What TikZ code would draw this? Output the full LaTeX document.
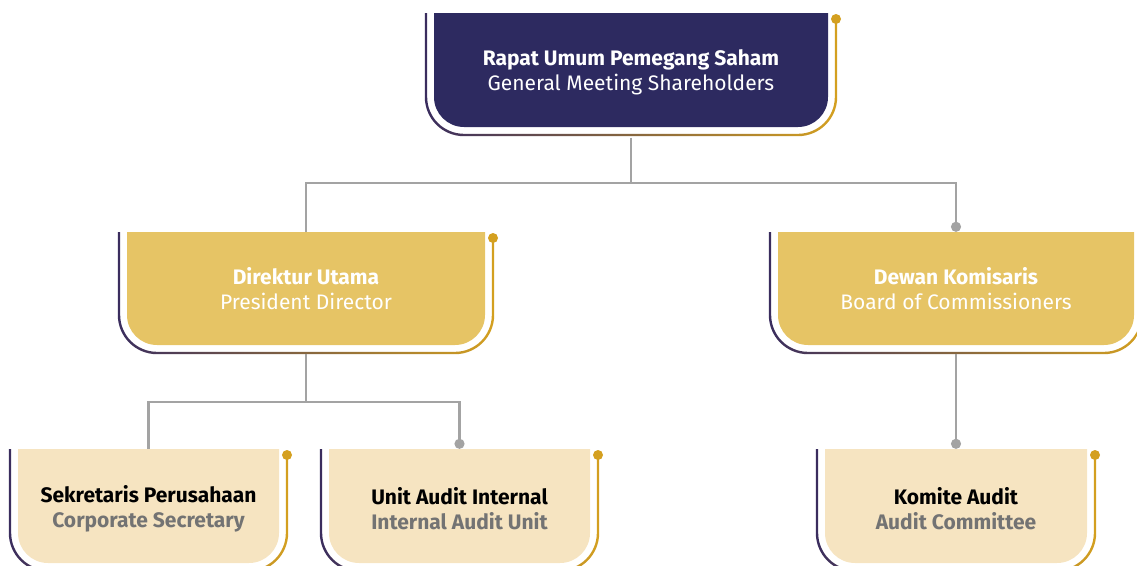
\documentclass[tikz,border=0pt]{standalone}
\usepackage{fontspec}
\setmainfont{Fira Sans}
\usetikzlibrary{arrows.meta}

\definecolor{navy}{HTML}{2D2A60}
\definecolor{gold}{HTML}{E6C465}
\definecolor{cream}{HTML}{F6E4C1}
\definecolor{dotgold}{HTML}{D4A020}
\definecolor{framepurple}{HTML}{3A2D5E}
\definecolor{linegray}{HTML}{A3A3A3}
\definecolor{subgray}{HTML}{737373}

% box with rounded bottom, offset frame and dot (left, right, top, bottom, fill)
\newcommand{\orgframe}[5]{%
  \fill[#5] (#1,-#3) -- (#1,{-(#4-30)}) arc[start angle=180,end angle=270,radius=30]
    -- ({#2-30},-#4) arc[start angle=270,end angle=360,radius=30] -- (#2,-#3) -- cycle;
  \shade[left color=framepurple, right color=dotgold]
    ({#1-9.2},-#3) -- ({#1-9.2},{-(#4-30)}) arc[start angle=180,end angle=270,radius=39.2]
    -- ({#2-30},{-(#4+9.2)}) arc[start angle=270,end angle=360,radius=39.2]
    -- ({#2+9.2},{-(#3+6)}) -- ({#2+6.8},{-(#3+6)}) -- ({#2+6.8},{-(#4-30)})
    arc[start angle=0,end angle=-90,radius=36.8] -- ({#1+30},{-(#4+6.8)})
    arc[start angle=270,end angle=180,radius=36.8] -- ({#1-6.8},-#3) -- cycle;
  \fill[dotgold] ({#2+8},{-(#3+6)}) circle[radius=5];
}

\begin{document}
\begin{tikzpicture}[x=1pt, y=1pt,
        conn/.style={draw=linegray, line width=2.4pt},
        dotend/.style={-{Circle[length=10pt]}},
        boxtext/.style={align=center, inner sep=0pt, font=\fontsize{21}{25}\selectfont},
        topnode/.style={boxtext, text=white, minimum width=394pt, minimum height=114pt},
        midnode/.style={boxtext, text=white, minimum width=358pt, minimum height=113pt},
        lownode/.style={boxtext, text=black, minimum width=261pt, minimum height=120pt,
          font=\fontsize{21}{25}\selectfont\bfseries},
        ]
        \useasboundingbox (0,0) rectangle (1137,-565);

        % Boxes
        \orgframe{434}{828}{13}{127}{navy}
        \orgframe{127}{485}{232}{345}{gold}
        \orgframe{778}{1134}{232}{345}{gold}
        \orgframe{18}{279}{449}{563}{cream}
        \orgframe{329}{590}{449}{563}{cream}
        \orgframe{825}{1087}{449}{563}{cream}

        % Nodes
        \node[topnode] (rups)   at (631,-72)    {\textbf{Rapat Umum Pemegang Saham}\\General Meeting Shareholders};
        \node[midnode] (dirut)  at (306,-288.5) {\textbf{Direktur Utama}\\President Director};
        \node[midnode] (dekom)  at (956,-288.5) {\textbf{Dewan Komisaris}\\Board of Commissioners};
        \node[lownode] (sekper) at (148.5,-509) {Sekretaris Perusahaan\\\textcolor{subgray}{Corporate Secretary}};
        \node[lownode] (spi)    at (459.5,-509) {Unit Audit Internal\\\textcolor{subgray}{Internal Audit Unit}};
        \node[lownode] (komite) at (956,-509)   {Komite Audit\\\textcolor{subgray}{Audit Committee}};

        \coordinate (j1) at ([yshift=-54pt]rups.south);
        \coordinate (j2) at ([yshift=-57pt]dirut.south);

        \draw[conn, shorten <=8.5pt] (rups.south) -- (j1);
        \draw[conn, dotend] (dirut.north) |- (j1) -| (dekom.north);
        \draw[conn, shorten <=8.5pt] (dirut.south) -- (j2);
        \draw[conn, dotend] (sekper.north) |- (j2) -| (spi.north);
        \draw[conn, dotend, shorten <=8.5pt] (dekom.south) -- (komite.north);

    \end{tikzpicture}
\end{document}
